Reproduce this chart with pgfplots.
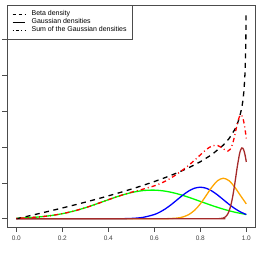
\documentclass[border=0pt]{standalone}
\usepackage{fontspec}
\setmainfont{Liberation Sans}
\usepackage{pgfplots}
\pgfplotsset{compat=1.18}
\usetikzlibrary{calc}
\definecolor{rgreen}{HTML}{00FF00}
\definecolor{rblue}{HTML}{0000FF}
\definecolor{rorange}{HTML}{FFA500}
\definecolor{rbrown}{HTML}{A52A2A}
\definecolor{rred}{HTML}{FF0000}
\begin{document}
\begin{tikzpicture}
\begin{axis}[
  name=ax,
  scale only axis,
  width=248pt, height=222pt,
  xmin=-0.0391, xmax=1.0391,
  ymin=-0.229, ymax=5.96,
  axis line style={black!70, line width=0.7pt},
  tick align=outside,
  tick style={black!70, line width=0.6pt},
  major tick length=5pt,
  xtick={0,0.2,0.4,0.6,0.8,1.0},
  xticklabels={0.0,0.2,0.4,0.6,0.8,1.0},
  ytick={0,1,2,3,4,5},
  yticklabels={},
  xtick pos=bottom, ytick pos=left,
  /pgf/number format/assume math mode=true,
  ticklabel style={font=\fontsize{6.5}{7}\selectfont, text=black!75},
  xticklabel style={yshift=-0.5pt},
  clip=true,
  legend cell align=left,
  legend style={at={(0,1)}, anchor=north west, draw=black!70, line width=0.6pt,
    font=\fontsize{7}{8}\selectfont, inner xsep=4.6pt, inner ysep=4.6pt, row sep=0pt,
    nodes={inner sep=0.8pt, text height=5pt, text depth=1.5pt},
    /tikz/every odd column/.append style={column sep=5.5pt}},
  legend image code/.code={\draw[#1] (0pt,0pt) -- (12.3pt,0pt);},
]
% Gaussian components
\addplot[rgreen, line width=1.3pt, smooth, forget plot] coordinates {
(0,0.0154)(0.05,0.0293)(0.1,0.0526)(0.15,0.0891)(0.2,0.1426)(0.25,0.2157)
(0.3,0.3083)(0.35,0.4163)(0.4,0.5313)(0.45,0.6406)(0.5,0.7298)(0.55,0.7856)
(0.6,0.7991)(0.65,0.7680)(0.7,0.6974)(0.75,0.5985)(0.8,0.4852)(0.85,0.3718)
(0.9,0.2691)(0.95,0.1841)(1.0,0.1190)};
\addplot[rblue, line width=1.3pt, smooth, forget plot] coordinates {
(0,0)(0.4,0.0003)(0.45,0.0019)(0.5,0.0098)(0.55,0.0387)(0.6,0.1191)(0.625,0.1903)
(0.65,0.2857)(0.675,0.4029)(0.7,0.5337)(0.725,0.6642)(0.75,0.7766)(0.775,0.8529)
(0.8,0.88)(0.825,0.8529)(0.85,0.7766)(0.875,0.6642)(0.9,0.5337)(0.925,0.4029)
(0.95,0.2857)(0.975,0.1903)(1.0,0.1191)};
\addplot[rorange, line width=1.3pt, smooth, forget plot] coordinates {
(0,0)(0.6,0.0001)(0.65,0.0022)(0.7,0.0207)(0.725,0.0529)(0.75,0.1191)(0.775,0.2369)
(0.8,0.4157)(0.825,0.6439)(0.85,0.8800)(0.875,1.0615)(0.9,1.13)(0.925,1.0615)
(0.95,0.8800)(0.975,0.6439)(1.0,0.4157)};
\addplot[rbrown, line width=1.3pt, smooth, forget plot] coordinates {
(0,0)(0.85,0)(0.875,0.0008)(0.9,0.0197)(0.91,0.0565)(0.92,0.1418)(0.93,0.3099)
(0.94,0.5905)(0.95,0.9809)(0.96,1.4207)(0.97,1.7938)(0.975,1.9147)(0.98,1.9746)
(0.985,1.9678)(0.99,1.8950)(0.995,1.7633)(1.0,1.5854)};
% Beta density
\addplot[black, line width=1.3pt, dash pattern=on 5pt off 4.5pt, forget plot] coordinates {
(0,0)(0.05,0.0727)(0.1,0.1471)(0.15,0.2231)(0.2,0.3011)(0.25,0.3813)(0.3,0.4639)
(0.35,0.5493)(0.4,0.6380)(0.45,0.7304)(0.5,0.8271)(0.55,0.9291)(0.6,1.0378)
(0.65,1.1547)(0.7,1.2822)(0.75,1.4251)(0.8,1.5894)(0.85,1.7886)(0.9,2.0540)
(0.925,2.2362)(0.95,2.4905)(0.96,2.6316)(0.97,2.8151)(0.98,3.0859)(0.985,3.2858)
(0.99,3.5810)(0.995,4.1337)(0.998,4.9830)(0.999,5.7270)};
% Sum of the Gaussians
\addplot[rred, line width=1.3pt, smooth, dash pattern=on 1pt off 3pt on 4.3pt off 3pt, forget plot] coordinates {
(0,0.0154)(0.05,0.0293)(0.1,0.0526)(0.15,0.0891)(0.2,0.1426)(0.25,0.2157)
(0.3,0.3083)(0.35,0.4163)(0.4,0.5316)(0.45,0.6425)(0.5,0.7396)(0.55,0.8243)
(0.6,0.9183)(0.625,0.9799)(0.65,1.0559)(0.675,1.1472)(0.7,1.2518)(0.725,1.3678)
(0.75,1.4942)(0.775,1.6325)(0.8,1.7809)(0.825,1.9245)(0.85,2.0284)(0.875,2.0450)
(0.9,1.9525)(0.91,1.9064)(0.92,1.8886)(0.93,1.9363)(0.94,2.0832)(0.95,2.3307)
(0.96,2.6231)(0.97,2.8490)(0.975,2.8979)(0.98,2.8872)(0.985,2.8118)(0.99,2.6729)
(0.995,2.4777)(1.0,2.2392)};
\addlegendimage{black, line width=0.8pt, dash pattern=on 3pt off 3pt}
\addlegendentry{Beta density}
\addlegendimage{black, line width=0.8pt}
\addlegendentry{Gaussian densities}
\addlegendimage{black, line width=0.8pt, dash pattern=on 0.8pt off 2.5pt on 3pt off 2.5pt}
\addlegendentry{Sum of the Gaussian densities}
\end{axis}
\pgfresetboundingbox
\path[use as bounding box] ($(ax.south west)+(-7.3pt,-29pt)$) rectangle ($(ax.north east)+(3.7pt,5pt)$);
\end{tikzpicture}
\end{document}
